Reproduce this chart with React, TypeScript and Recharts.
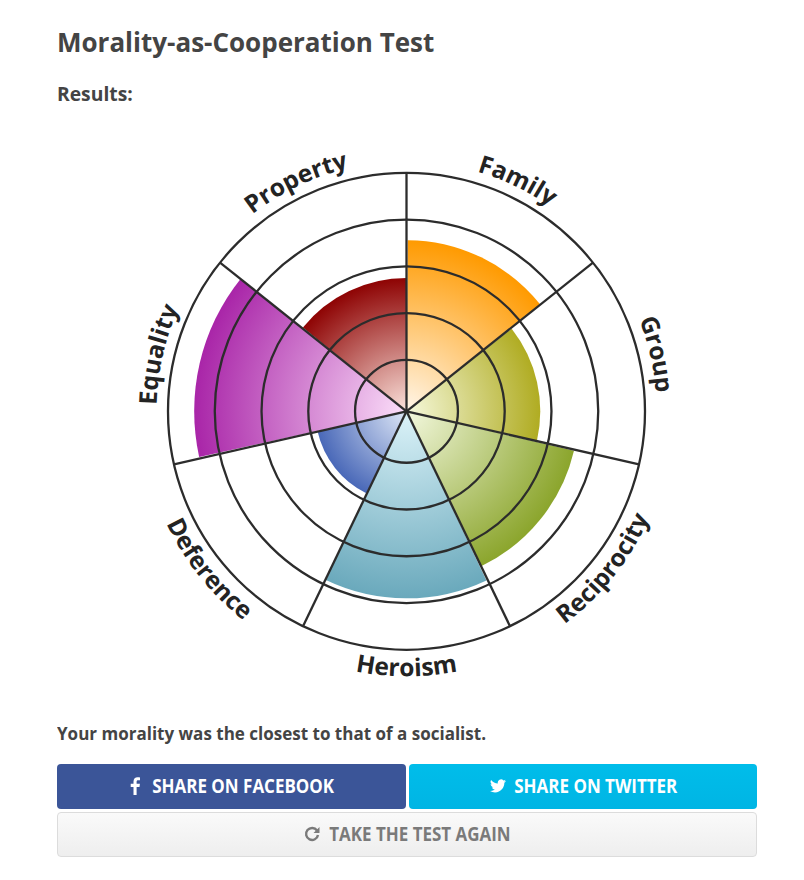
import { RadialBarChart, RadialBar, PolarGrid, PolarAngleAxis, PolarRadiusAxis, Cell } from "recharts";

const categories = ["Family", "Group", "Reciprocity", "Heroism", "Deference", "Equality", "Property"];
const scores = [3.56, 2.76, 3.58, 3.9, 1.85, 4.44, 2.75];
const innerColors = ["#fff6ea", "#f6f9dc", "#f3f8de", "#dcf3f9", "#dfe8f7", "#fbdff9", "#fbe3dc"];
const outerColors = ["#ff9a00", "#b0ac22", "#8ba52c", "#6aa9bc", "#4968b8", "#a925a8", "#8e0303"];
const ringTicks = [1, 2, 3, 4, 5];
const radiusDomain = [-0.1, 5];

const CX = 406.5;
const CY = 411.3;
const OUTER = 238.5;
const INK = "#2c2c2c";
const SANS = '"Open Sans", sans-serif';

const data = categories.map((name, i) => ({ name, range: [radiusDomain[0], scores[i]] }));
const sliceDeg = 360 / categories.length;
const spokes = categories.map((_, i) => 90 - i * sliceDeg);

function polar(r: number, deg: number) {
  const a = (deg * Math.PI) / 180;
  return [CX + r * Math.sin(a), CY - r * Math.cos(a)];
}

// curved label, reads clockwise on top and counter-clockwise along the bottom
function CurvedTick({ index }: { index: number }) {
  const mid = (index + 0.5) * sliceDeg;
  const flipped = mid > 100 && mid < 260;
  const r = flipped ? 265 : 250;
  const [x0, y0] = polar(r, flipped ? mid + 60 : mid - 60);
  const [x1, y1] = polar(r, flipped ? mid - 60 : mid + 60);
  const id = `label-arc-${index}`;
  return (
    <g>
      <path id={id} d={`M${x0} ${y0}A${r} ${r} 0 0 ${flipped ? 0 : 1} ${x1} ${y1}`} fill="none" />
      <text fontFamily={SANS} fontWeight={700} fontSize={24.5} fill="#232323" textAnchor="middle">
        <textPath href={`#${id}`} startOffset="50%">
          {categories[index]}
        </textPath>
      </text>
    </g>
  );
}

const buttonStyle = {
  position: "absolute",
  display: "flex",
  alignItems: "center",
  justifyContent: "center",
  boxSizing: "border-box",
  height: 45,
  paddingLeft: 9,
  paddingBottom: 2,
  borderRadius: 4,
  fontFamily: SANS,
  fontWeight: 700,
  fontSize: 18.7,
} as const;

const squeezed = { display: "inline-block", transform: "scaleX(0.908)", whiteSpace: "nowrap" } as const;

export default function App() {
  return (
    <div style={{ position: "absolute", left: 0, top: 0, width: 804, height: 880, background: "#fff", overflow: "hidden", color: "#444", fontFamily: SANS }}>
      <div style={{ position: "absolute", left: 57, top: 24, fontSize: 26, fontWeight: 700, lineHeight: "36px", whiteSpace: "nowrap" }}>
        Morality-as-Cooperation Test
      </div>
      <div style={{ position: "absolute", left: 57, top: 81, fontSize: 19.3, fontWeight: 700, lineHeight: "26px" }}>Results:</div>

      <div style={{ position: "absolute", left: 0, top: 0 }}>
        {/* bars land one slice early, so the whole polar range is turned by one slice */}
        <RadialBarChart
          width={804}
          height={700}
          data={data}
          layout="centric"
          cx={CX}
          cy={CY}
          innerRadius={0}
          outerRadius={OUTER}
          startAngle={90 - sliceDeg}
          endAngle={-270 - sliceDeg}
          barCategoryGap={0}
          margin={{ top: 0, right: 0, bottom: 0, left: 0 }}
        >
          <defs>
            {categories.map((name, i) => (
              <radialGradient
                key={name}
                id={`wedge-${i}`}
                gradientUnits="userSpaceOnUse"
                cx={CX}
                cy={CY}
                r={(OUTER * (scores[i] - radiusDomain[0])) / (radiusDomain[1] - radiusDomain[0])}
              >
                <stop offset="0%" stopColor={innerColors[i]} />
                <stop offset="100%" stopColor={outerColors[i]} />
              </radialGradient>
            ))}
          </defs>
          <PolarAngleAxis type="category" dataKey="name" axisLine={false} tickLine={false} tick={(p: any) => <CurvedTick index={p.index} />} />
          <PolarRadiusAxis type="number" domain={radiusDomain} ticks={ringTicks} tick={false} axisLine={false} />
          <RadialBar dataKey="range" isAnimationActive={false} zIndex={100}>
            {categories.map((name, i) => (
              <Cell key={name} fill={`url(#wedge-${i})`} />
            ))}
          </RadialBar>
          <PolarGrid gridType="circle" polarAngles={spokes} stroke={INK} strokeWidth={2.3} zIndex={1000} />
        </RadialBarChart>
      </div>

      <div style={{ position: "absolute", left: 57, top: 720, fontSize: 17.5, fontWeight: 700, lineHeight: "26px", whiteSpace: "nowrap", transform: "scaleX(0.972)", transformOrigin: "left" }}>
        Your morality was the closest to that of a socialist.
      </div>

      <div style={{ ...buttonStyle, left: 57, top: 764, width: 349, background: "#3b5598", color: "#fff" }}>
        <svg width="12" height="18" viewBox="0 0 12 18" style={{ marginRight: 2 }}>
          <path d="M7.6 18V10h2.9l.4-3.2H7.6V4.8c0-.9.3-1.500 1.600-1.500H11V.4C10.600.3 9.700.2 8.600.2 6.200.2 4.500 1.700 4.500 4.400v2.400H1.700V10h2.800v8z" fill="#fff" />
        </svg>
        <span style={squeezed}>SHARE ON FACEBOOK</span>
      </div>
      <div style={{ ...buttonStyle, left: 409, top: 764, width: 348, background: "linear-gradient(#00bdea, #00b5e4)", color: "#fff" }}>
        <svg width="16" height="14" viewBox="0 0 24 20">
          <path d="M24 2.400a9.800 9.800 0 0 1-2.800.8A4.900 4.900 0 0 0 23.300.500a9.900 9.900 0 0 1-3.100 1.200 4.900 4.900 0 0 0-8.400 4.500A14 14 0 0 1 1.700 1 4.900 4.900 0 0 0 3.200 7.600a4.900 4.900 0 0 1-2.200-.6c0 2.300 1.600 4.400 3.900 4.900a4.900 4.900 0 0 1-2.200.1 4.900 4.900 0 0 0 4.600 3.400A9.900 9.900 0 0 1 0 17.400 14 14 0 0 0 7.500 19.600c9.100 0 14.300-7.700 14-14.600A10 10 0 0 0 24 2.400z" fill="#fff" />
        </svg>
        <span style={squeezed}>SHARE ON TWITTER</span>
      </div>
      <div style={{ ...buttonStyle, left: 57, top: 812, width: 700, background: "linear-gradient(#fafafa, #eeeeee)", border: "1px solid #dcdcdc", color: "#7a7a7a" }}>
        <svg width="16" height="16" viewBox="0 0 16 16">
          <path d="M13 4.500A6 6 0 1 0 14 9" fill="none" stroke="#7a7a7a" strokeWidth="2.400" />
          <path d="M15.500 1v6h-6z" fill="#7a7a7a" />
        </svg>
        <span style={squeezed}>TAKE THE TEST AGAIN</span>
      </div>
    </div>
  );
}
